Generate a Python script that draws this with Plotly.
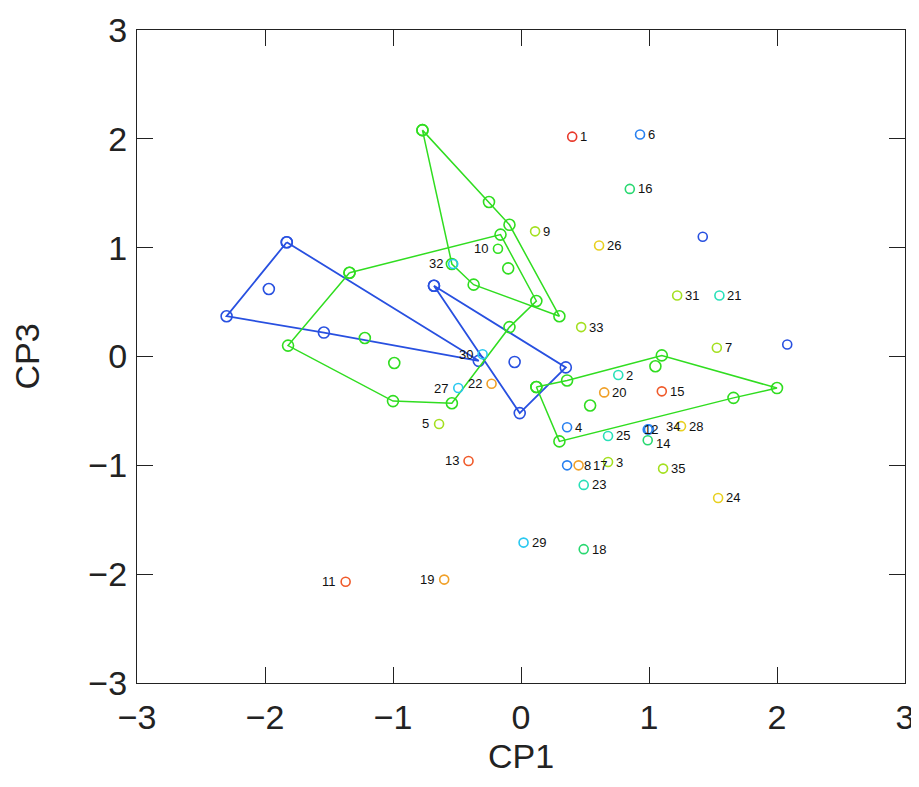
import plotly.graph_objects as go

# ---- labelled samples ----
labels = ["1", "2", "3", "4", "5", "6", "7", "8", "9", "10", "11", "12", "13", "14", "15", "16", "17",
          "18", "19", "20", "21", "22", "23", "24", "25", "26", "27", "28", "29", "30", "31", "32", "33",
          "34", "35"]
cp1 = [0.40, 0.76, 0.68, 0.36, -0.64, 0.93, 1.53, 0.36, 0.11, -0.18, -1.37, 0.99, -0.41, 0.99, 1.10, 0.85, 0.45,
       0.49, -0.60, 0.65, 1.55, -0.23, 0.49, 1.54, 0.68, 0.61, -0.49, 1.25, 0.02, -0.30, 1.22, -0.53, 0.47,
       1.00, 1.11]
cp3 = [2.02, -0.17, -0.97, -0.65, -0.62, 2.04, 0.08, -1.00, 1.15, 0.99, -2.07, -0.67, -0.96, -0.77, -0.32, 1.54, -1.00,
       -1.77, -2.05, -0.33, 0.56, -0.25, -1.18, -1.30, -0.73, 1.02, -0.29, -0.64, -1.71, 0.02, 0.56, 0.85, 0.27,
       -0.67, -1.03]
klass = ["red", "turq", "ygreen", "dodger", "ygreen", "dodger", "ygreen", "dodger", "ygreen", "green", "ored",
         "dodger", "ored", "sgreen", "ored", "sgreen", "orange", "sgreen", "orange", "orange", "turq", "orange",
         "turq", "gold", "turq", "gold", "cyan", "gold", "cyan", "cyan", "ygreen", "cyan", "ygreen", "dodger",
         "ygreen"]
left_labels = {"5", "10", "11", "13", "19", "22", "27", "30", "32"}
# labels whose text sits at a non-default offset (pixels)
label_shift = {"12": -6, "34": 15, "8": 15, "17": 12}
label_yshift = {"34": 3, "14": -3}

# ---- unlabelled blue samples ----
extra_x = [1.42, 2.08]
extra_y = [1.10, 0.11]

# ---- groups (hull vertices + inner points) ----
blue1_hull_x = [-1.83, -2.30, -1.54, -0.33, -1.83]
blue1_hull_y = [1.05, 0.37, 0.22, -0.04, 1.05]
blue1_in_x = [-1.97]
blue1_in_y = [0.62]

blue2_hull_x = [-0.68, 0.35, -0.01, -0.68]
blue2_hull_y = [0.65, -0.10, -0.52, 0.65]
blue2_in_x = [-0.05]
blue2_in_y = [-0.05]

greenA_hull_x = [-0.77, -0.25, -0.09, 0.30, -0.37, -0.54, -0.77]
greenA_hull_y = [2.08, 1.42, 1.21, 0.37, 0.66, 0.85, 2.08]
greenA_in_x = [-0.10]
greenA_in_y = [0.81]

greenB_hull_x = [-1.34, -0.16, 0.12, -0.09, -0.54, -1.00, -1.82, -1.34]
greenB_hull_y = [0.77, 1.12, 0.51, 0.27, -0.43, -0.41, 0.10, 0.77]
greenB_in_x = [-1.22, -0.99]
greenB_in_y = [0.17, -0.06]

greenC_hull_x = [0.12, 0.30, 1.66, 2.00, 1.10, 0.36, 0.12]
greenC_hull_y = [-0.28, -0.78, -0.38, -0.29, 0.01, -0.22, -0.28]
greenC_in_x = [1.05, 0.54]
greenC_in_y = [-0.09, -0.45]

palette = {
    "red": "#e8382a", "ored": "#f05a2a", "orange": "#f0a028", "gold": "#e8d020",
    "ygreen": "#a4e020", "green": "#30e020", "sgreen": "#28d870", "turq": "#28e0b8",
    "cyan": "#28c8f0", "dodger": "#2880f0",
}
BLUE = "#2850e0"
GREEN = "#30dd20"
FONT = "Liberation Sans, Arial"

fig = go.Figure()


def group(hx, hy, ix, iy, color, lw):
    fig.add_trace(go.Scatter(x=hx, y=hy, mode="lines+markers", line=dict(color=color, width=lw),
                             marker=dict(symbol="circle-open", size=11, color=color, line=dict(width=1.6)),
                             showlegend=False, hoverinfo="skip"))
    fig.add_trace(go.Scatter(x=ix, y=iy, mode="markers",
                             marker=dict(symbol="circle-open", size=11, color=color, line=dict(width=1.6)),
                             showlegend=False, hoverinfo="skip"))


group(blue1_hull_x, blue1_hull_y, blue1_in_x, blue1_in_y, BLUE, 1.8)
group(blue2_hull_x, blue2_hull_y, blue2_in_x, blue2_in_y, BLUE, 1.8)
group(greenA_hull_x, greenA_hull_y, greenA_in_x, greenA_in_y, GREEN, 1.5)
group(greenB_hull_x, greenB_hull_y, greenB_in_x, greenB_in_y, GREEN, 1.5)
group(greenC_hull_x, greenC_hull_y, greenC_in_x, greenC_in_y, GREEN, 1.5)

fig.add_trace(go.Scatter(x=extra_x, y=extra_y, mode="markers",
                         marker=dict(symbol="circle-open", size=9, color=BLUE, line=dict(width=1.6)),
                         showlegend=False, hoverinfo="skip"))

fig.add_trace(go.Scatter(x=cp1, y=cp3, mode="markers",
                         marker=dict(symbol="circle-open", size=9, color=[palette[k] for k in klass],
                                     line=dict(width=1.6)),
                         showlegend=False, text=labels, hoverinfo="text"))

for lab, x, y in zip(labels, cp1, cp3):
    left = lab in left_labels
    shift = label_shift.get(lab, -8 if left else 6)
    fig.add_annotation(x=x, y=y, text=lab, showarrow=False,
                       xanchor="right" if left else "left",
                       xshift=shift, yshift=label_yshift.get(lab, 0),
                       font=dict(family=FONT, size=13, color="#111"))

axis_common = dict(range=[-3, 3], dtick=1, ticks="inside", ticklen=16, tickwidth=1.3, tickcolor="#222",
                   showline=True, linecolor="#222", linewidth=1.3, mirror="ticks", showgrid=False,
                   zeroline=False, automargin=False,
                   tickfont=dict(family=FONT, size=34, color="#222"))

fig.update_layout(
    width=911, height=771,
    margin=dict(l=129, r=14, t=22, b=96),
    paper_bgcolor="white", plot_bgcolor="white",
    xaxis=dict(**axis_common, title=dict(text="CP1", font=dict(family=FONT, size=34, color="#222"),
                                         standoff=9),
               ticklabelstandoff=4, ticklabeloverflow="allow"),
    yaxis=dict(**axis_common, title=dict(text="CP3", font=dict(family=FONT, size=34, color="#222"),
                                         standoff=46),
               ticklabelstandoff=2),
)

fig.write_html("out.html", post_script="document.body.style.overflow='hidden';")
